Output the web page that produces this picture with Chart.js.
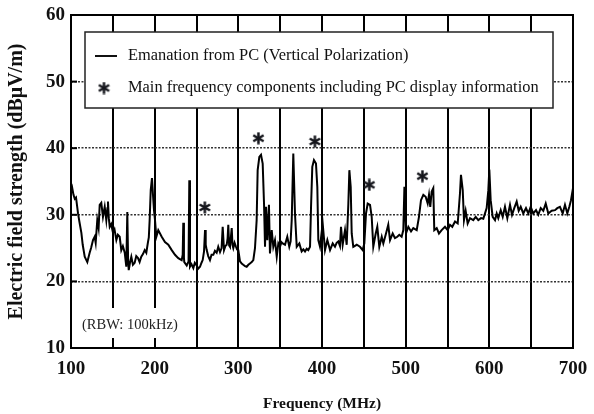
<!DOCTYPE html>
<html>
<head>
<meta charset="utf-8">
<script src="https://cdn.jsdelivr.net/npm/chart.js@4/dist/chart.umd.min.js"></script>
<style>
  body { margin: 0; background: #fff; }
  #wrap { width: 594px; height: 414px; }
</style>
</head>
<body>
<div id="wrap"><canvas id="emiChart" width="594" height="414"></canvas></div>
<script>
// frequency (MHz) and field strength (dBuV/m)
const freqMHz = [
  100, 101.5, 103, 104.5, 106, 108.4, 110, 112.4, 114, 116.4, 119.5, 122.3, 124, 126.3, 128.3, 129.5,
  131.4, 133, 134.3, 136.2, 138.2, 140.3, 142.2, 143.5, 144.2, 145.2, 146.3, 148, 150.2, 152, 154.2,
  156, 158.2, 160.1, 162, 164.2, 166.1, 167.3, 168.3, 169, 170.5, 172.1, 174, 176.1, 178, 180.1, 182,
  184, 186, 188.1, 190, 192, 193, 194, 195.3, 196.8, 198, 199.2, 200.4, 202, 204.3, 208.4, 212.3,
  216.3, 220.4, 224.3, 228.2, 232.3, 233.5, 234.2, 235, 235.4, 238.3, 240.5, 241.4, 242.2, 244, 246.2,
  248, 250.2, 252, 254.2, 256, 257.4, 259, 260.2, 261, 262.2, 264, 266.1, 268, 270.1, 272, 274.1, 276,
  278.1, 280, 281.3, 282.9, 284.5, 286.1, 287.2, 288, 289, 290, 291, 292.1, 293, 294, 295.5, 297.2,
  298.5, 300, 302, 304, 305.9, 308, 310, 312, 313.9, 316, 317.9, 319.9, 321.9, 323.1, 325.1, 327.1,
  329.1, 330.7, 331.9, 333.1, 334.6, 336.6, 337.8, 339.9, 341.8, 343.8, 345.9, 347.8, 349.8, 351.5,
  353, 355.8, 358.5, 360.9, 362.5, 363.8, 365.7, 367.7, 369.8, 372.9, 375.7, 377.7, 379.7, 381.7,
  383.6, 385.7, 386.9, 388.4, 390.4, 392.8, 394.4, 395.6, 397.6, 400.8, 403.6, 406.4, 409.6, 412.8,
  415.5, 417.5, 419.5, 421.5, 422.7, 424.7, 427.5, 429.5, 431.5, 432.7, 434.3, 435.5, 437.4, 441.5,
  445.4, 448.6, 450.6, 452.6, 454.6, 457.4, 459.4, 461.3, 464.2, 466.1, 468.5, 471.4, 473.3, 476.5,
  479.2, 481.3, 484.5, 487.2, 490, 492.4, 495.2, 497.2, 498.5, 500.4, 503.2, 506.4, 509.1, 513.2,
  515.9, 518.3, 521.1, 523.9, 526.3, 527.9, 529.4, 531.1, 533, 534.2, 537.1, 539.8, 543, 547, 550.2,
  553, 555.7, 559, 562.2, 564.9, 566.1, 568.2, 569.7, 571.7, 574.1, 576.9, 580.8, 583.7, 586.8, 590,
  592.8, 596.8, 598.8, 600, 601.6, 604, 606.8, 608.8, 610.7, 613.6, 616, 618.7, 621.5, 624.7, 627.1,
  629.8, 632.7, 635.1, 637.5, 640.6, 643.8, 646.6, 649.4, 652.5, 655.8, 658.5, 661.4, 664.5, 667.4,
  670.5, 674.5, 678.5, 681.2, 684.4, 687.7, 690.4, 693.2, 695.6, 697.6, 700
];
const levelDb = [
  33.2, 34.0, 33.0, 32.4, 32.6, 30.2, 29.0, 27.3, 25.5, 23.7, 22.9, 24.3, 25.0, 26.2, 26.7, 25.8,
  29.2, 28.0, 31.5, 31.8, 29.7, 31.2, 29.2, 31.0, 32.0, 29.5, 28.2, 28.6, 27.3, 27.8, 26.2,
  27.0, 26.7, 24.7, 25.3, 24.3, 22.2, 30.4, 23.0, 21.7, 22.8, 23.7, 22.5, 22.8, 23.8, 23.5, 22.9,
  23.7, 24.1, 24.7, 24.3, 25.9, 26.6, 29.2, 33.7, 35.5, 33.0, 30.7, 29.2, 26.7, 27.7, 26.7, 25.9,
  25.5, 24.7, 24.0, 23.5, 23.2, 24.0, 28.8, 23.5, 22.9, 22.4, 23.0, 35.2, 22.2, 22.6, 22.0,
  22.8, 22.4, 21.9, 22.2, 22.8, 23.2, 24.5, 27.7, 25.5, 24.7, 23.8, 23.2, 24.0, 24.0, 24.6, 24.3, 25.2,
  24.4, 25.0, 28.2, 24.7, 25.3, 25.5, 26.5, 28.5, 25.4, 25.2, 26.5, 28.0, 25.5, 25.0, 25.8, 25.2,
  24.8, 24.7, 23.0, 22.7, 22.5, 22.3, 22.2, 22.5, 22.7, 22.9, 23.2, 25.0, 29.2, 36.7, 38.7, 39.0,
  37.7, 31.7, 25.2, 31.2, 26.2, 31.5, 24.2, 27.7, 25.2, 26.2, 23.7, 25.7, 25.2, 25.9,
  25.7, 25.5, 26.7, 25.2, 26.0, 29.2, 39.2, 30.2, 25.2, 25.7, 24.5, 24.8, 24.5, 24.9,
  24.7, 25.2, 31.2, 37.2, 38.2, 37.7, 34.2, 26.2, 25.2, 28.7, 24.7, 26.2, 24.7, 25.7,
  25.2, 25.8, 26.0, 25.3, 28.2, 25.5, 27.7, 25.5, 31.7, 36.7, 34.2, 27.2, 25.2, 25.5,
  25.2, 24.7, 25.7, 30.2, 31.7, 31.5, 29.7, 25.2, 27.2, 28.2, 25.2, 26.7, 25.7, 27.2,
  28.5, 26.2, 27.2, 26.5, 26.7, 27.0, 26.7, 27.7, 34.2, 27.2, 28.2, 27.5, 28.0, 27.7,
  29.7, 32.2, 33.0, 32.7, 31.7, 33.0, 31.2, 33.5, 34.0, 27.7, 28.0, 27.2, 27.7, 28.2, 27.7,
  28.5, 28.2, 29.0, 28.7, 33.2, 36.0, 33.7, 29.2, 30.6, 28.7, 29.5, 29.2, 29.7, 29.2, 29.5,
  29.4, 31.0, 33.7, 36.8, 32.2, 29.7, 29.2, 30.2, 29.5, 30.7, 29.7, 31.2, 29.5, 31.5, 30.0,
  31.0, 32.0, 30.6, 31.2, 30.2, 31.0, 30.2, 31.2, 30.2, 30.7, 30.0, 31.0, 30.6, 31.7,
  30.2, 30.6, 30.7, 31.0, 31.2, 30.2, 31.5, 30.2, 31.2, 32.2, 34.0
];

// main frequency components carrying display information (asterisks)
const starFreqMHz = [260, 324, 391.5, 456.5, 520];
const starLevelDb = [31.1, 41.5, 41.0, 34.5, 35.8];

const xTickValues = [100, 200, 300, 400, 500, 600, 700];
const yTickValues = [10, 20, 30, 40, 50, 60];

const legendLabels = [
  'Emanation from PC (Vertical Polarization)',
  'Main frequency components including PC display information'
];
const rbwNote = '(RBW: 100kHz)';

const serif = "'Liberation Serif', 'Times New Roman', serif";

// six-armed asterisk used as point marker
function criarAsterisco(tam, espessura) {
  const c = document.createElement('canvas');
  c.width = tam; c.height = tam;
  const g = c.getContext('2d');
  g.strokeStyle = '#15161c';
  g.lineWidth = espessura;
  const r = tam / 2 - 0.5, cx = tam / 2, cy = tam / 2;
  [90, 30, 150].forEach(a => {
    const t = a * Math.PI / 180;
    g.beginPath();
    g.moveTo(cx - r * Math.cos(t), cy - r * Math.sin(t));
    g.lineTo(cx + r * Math.cos(t), cy + r * Math.sin(t));
    g.stroke();
  });
  return c;
}
const asterisco = criarAsterisco(13, 2.5);

// frame, inward ticks, legend box and RBW note
const extras = {
  id: 'extras',
  beforeDatasetsDraw(chart) {
    const { ctx, chartArea: a } = chart;
    ctx.save();
    // RBW note background hides the grid behind the text
    ctx.font = '14.5px ' + serif;
    const w = ctx.measureText(rbwNote).width;
    ctx.fillStyle = '#fff';
    ctx.fillRect(a.left + 8, a.bottom - 40, w + 8, 30);
    ctx.fillStyle = '#222';
    ctx.textBaseline = 'middle';
    ctx.fillText(rbwNote, a.left + 11, a.bottom - 23);
    ctx.restore();
  },
  afterDraw(chart) {
    const { ctx, chartArea: a, scales } = chart;
    ctx.save();
    ctx.strokeStyle = '#000';
    ctx.lineWidth = 2;
    ctx.strokeRect(a.left, a.top, a.right - a.left, a.bottom - a.top);
    // small inward ticks on the left axis
    yTickValues.forEach(v => {
      const y = scales.y.getPixelForValue(v);
      ctx.beginPath();
      ctx.moveTo(a.left, y);
      ctx.lineTo(a.left + 6, y);
      ctx.stroke();
    });
    // legend
    const bx = 85, by = 32, bw = 468, bh = 76;
    ctx.fillStyle = '#fff';
    ctx.fillRect(bx, by, bw, bh);
    ctx.lineWidth = 1.5;
    ctx.strokeStyle = '#222';
    ctx.strokeRect(bx, by, bw, bh);
    ctx.lineWidth = 2;
    ctx.strokeStyle = '#111';
    ctx.beginPath();
    ctx.moveTo(95, 56);
    ctx.lineTo(117, 56);
    ctx.stroke();
    ctx.drawImage(asterisco, 104 - 6.5, 88 - 6.5);
    ctx.fillStyle = '#111';
    ctx.font = '16.4px ' + serif;
    ctx.textBaseline = 'middle';
    ctx.fillText(legendLabels[0], 128, 56);
    ctx.fillText(legendLabels[1], 128, 88);
    ctx.restore();
  }
};

const ctx = document.getElementById('emiChart').getContext('2d');
new Chart(ctx, {
  type: 'line',
  data: {
    datasets: [
      {
        label: legendLabels[0],
        data: freqMHz.map((f, i) => ({ x: f, y: levelDb[i] })),
        borderColor: '#000',
        borderWidth: 2,
        pointRadius: 0,
        tension: 0,
        fill: false
      },
      {
        label: legendLabels[1],
        type: 'scatter',
        data: starFreqMHz.map((f, i) => ({ x: f, y: starLevelDb[i] })),
        pointStyle: asterisco,
        pointRadius: 6,
        showLine: false
      }
    ]
  },
  options: {
    responsive: false,
    animation: false,
    devicePixelRatio: 1,
    layout: { padding: { left: 0, top: 15, right: 21, bottom: 0 } },
    plugins: { legend: { display: false }, tooltip: { enabled: false } },
    scales: {
      x: {
        type: 'linear',
        min: 100,
        max: 700,
        afterFit: s => { s.height = 66; s.paddingLeft = 0; s.paddingRight = 0; },
        afterBuildTicks: s => {
          s.ticks = [];
          for (let v = 100; v <= 700; v += 50) s.ticks.push({ value: v });
        },
        ticks: {
          autoSkip: false,
          maxRotation: 0,
          padding: 10,
          color: '#111',
          font: { family: serif, size: 19, weight: 'bold' },
          callback: v => (xTickValues.includes(v) ? String(v) : '')
        },
        grid: { color: '#000', lineWidth: 2, drawTicks: false },
        border: { display: false },
        title: {
          display: true,
          text: 'Frequency (MHz)',
          color: '#111',
          font: { family: serif, size: 15.5, weight: 'bold' },
          padding: { top: 0, bottom: 1 }
        }
      },
      y: {
        min: 10,
        max: 60,
        afterFit: s => { s.width = 71; s.paddingTop = 0; s.paddingBottom = 0; },
        afterBuildTicks: s => { s.ticks = yTickValues.map(v => ({ value: v })); },
        ticks: {
          padding: 6,
          color: '#111',
          font: { family: serif, size: 19, weight: 'bold' }
        },
        grid: {
          color: c => (c.tick && (c.tick.value === 10 || c.tick.value === 60)) ? 'rgba(0,0,0,0)' : '#333',
          lineWidth: 1.6,
          drawTicks: false
        },
        border: { display: false, dash: [2, 1.5] },
        title: {
          display: true,
          text: 'Electric field strength (dBμV/m)',
          color: '#111',
          font: { family: serif, size: 20, weight: 'bold' },
          padding: { top: 5, bottom: 0 }
        }
      }
    }
  },
  plugins: [extras]
});
</script>
</body>
</html>
